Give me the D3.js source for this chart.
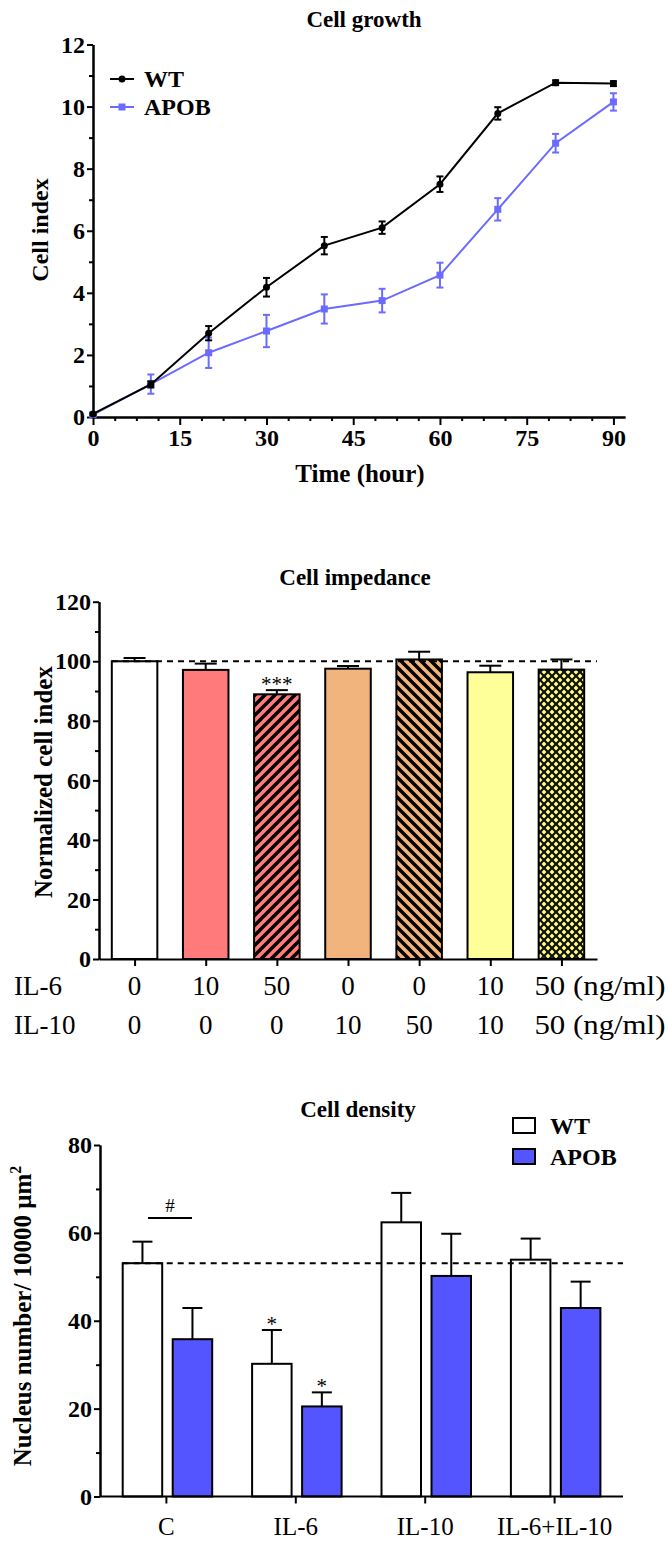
<!DOCTYPE html>
<html>
<head>
<meta charset="utf-8">
<script src="https://cdn.jsdelivr.net/npm/d3@7"></script>
<style>
  body { margin: 0; background: #fff; }
  svg text { font-family: "Liberation Serif", "Times New Roman", serif; fill: #000; }
</style>
</head>
<body>
<div id="chart"></div>
<script>
// ---- data: cell growth
var growthTime = [0, 10, 20, 30, 40, 50, 60, 70, 80, 90];
var wtIndex    = [0.1, 1.05, 2.7, 4.18, 5.52, 6.1, 7.5, 9.78, 10.77, 10.74];
var wtErr      = [0.03, 0.1, 0.23, 0.3, 0.28, 0.2, 0.25, 0.2, 0.08, 0.08];
var apobIndex  = [0.08, 1.06, 2.07, 2.77, 3.48, 3.75, 4.57, 6.69, 8.82, 10.15];
var apobErr    = [0.05, 0.31, 0.49, 0.52, 0.47, 0.38, 0.4, 0.36, 0.3, 0.28];
var growthXTicks = [0, 15, 30, 45, 60, 75, 90];
var growthYTicks = [0, 2, 4, 6, 8, 10, 12];

// ---- data: cell impedance
var il6Dose  = ["0", "10", "50", "0", "0", "10", "50"];
var il10Dose = ["0", "0", "0", "10", "50", "10", "50"];
var impValue = [100, 97.1, 88.9, 97.5, 100.6, 96.3, 97.2];
var impErr   = [1.1, 2.1, 1.4, 0.9, 2.6, 2.2, 3.4];
var impStars = ["", "", "***", "", "", "", ""];
var impYTicks = [0, 20, 40, 60, 80, 100, 120];

// ---- data: cell density
var densityGroups = ["C", "IL-6", "IL-10", "IL-6+IL-10"];
var densitySeries = ["WT", "APOB"];
var wtDensity      = [53.1, 30.2, 62.4, 53.9];
var wtDensityErr   = [4.9, 7.7, 6.7, 4.8];
var apobDensity    = [35.8, 20.5, 50.2, 42.9];
var apobDensityErr = [7.1, 3.2, 9.6, 6.0];
var wtStars   = ["", "*", "", ""];
var apobStars = ["", "*", "", ""];
var densityYTicks = [0, 20, 40, 60, 80];

var FONT = "'Liberation Serif', 'Times New Roman', serif";
var blueLine = "#6b6bff";
var blueBar = "#5555ff";

var svg = d3.select("#chart").append("svg")
  .attr("width", 669)
  .attr("height", 1551)
  .attr("font-family", FONT);

var defs = svg.append("defs");

// diagonal stripes over a colour
function stripePattern(id, bg, dir) {
  var p = defs.append("pattern")
    .attr("id", id)
    .attr("patternUnits", "userSpaceOnUse")
    .attr("width", 10).attr("height", 10);
  p.append("rect").attr("width", 10).attr("height", 10).attr("fill", bg);
  var d = dir > 0
    ? "M-2,12 L12,-2 M-7,7 L7,-7 M3,17 L17,3"
    : "M-2,-2 L12,12 M-7,3 L7,17 M3,-7 L17,7";
  p.append("path").attr("d", d).attr("stroke", "#000").attr("stroke-width", 3.4);
}
stripePattern("stripeRed", "#ff7b7b", 1);
stripePattern("stripeOrange", "#f0b47c", -1);

// black with yellow diamond dots
var dots = defs.append("pattern")
  .attr("id", "dotsYellow")
  .attr("patternUnits", "userSpaceOnUse")
  .attr("width", 8).attr("height", 8);
dots.append("rect").attr("width", 8).attr("height", 8).attr("fill", "#111");
dots.append("path").attr("d", "M4,1.6 L6.4,4 L4,6.4 L1.6,4 Z").attr("fill", "#ffff80");
dots.append("path").attr("d", "M0,-2.4 L2.4,0 L0,2.4 L-2.4,0 Z M8,-2.4 L10.4,0 L8,2.4 L5.6,0 Z M0,5.6 L2.4,8 L0,10.4 L-2.4,8 Z M8,5.6 L10.4,8 L8,10.4 L5.6,8 Z")
  .attr("fill", "#ffff80");

var impFill = ["#ffffff", "#ff7b7b", "url(#stripeRed)", "#f0b47c", "url(#stripeOrange)", "#ffff99", "url(#dotsYellow)"];

function styleAxis(g, size) {
  g.attr("font-family", FONT);
  g.selectAll(".domain").attr("stroke-width", 2).attr("stroke", "#000");
  g.selectAll(".tick line").attr("stroke-width", 2).attr("stroke", "#000");
  g.selectAll(".tick text")
    .attr("font-family", FONT)
    .style("font-weight", "bold")
    .style("font-size", size + "px")
    .attr("fill", "#000");
}

// =========================== Cell growth
var x1 = d3.scaleLinear().domain([0, 92]).range([93, 625]);
var y1 = d3.scaleLinear().domain([0, 12]).range([417, 44.5]);

svg.append("text")
  .attr("x", 364).attr("y", 27)
  .attr("text-anchor", "middle")
  .style("font-weight", "bold").style("font-size", "23px")
  .text("Cell growth");

// minor ticks
svg.append("g")
  .attr("transform", "translate(0,417)")
  .call(d3.axisBottom(x1).tickValues(d3.range(0, 91, 3.75).filter(function(d) { return d % 15 !== 0; }))
    .tickSize(4).tickFormat("").tickSizeOuter(0))
  .call(function(g) { styleAxis(g, 24); });

svg.append("g")
  .attr("transform", "translate(0,417)")
  .call(d3.axisBottom(x1).tickValues(growthXTicks).tickSize(8).tickPadding(4).tickSizeOuter(0))
  .call(function(g) { styleAxis(g, 24); });

svg.append("g")
  .attr("transform", "translate(93,0)")
  .call(d3.axisLeft(y1).tickValues([1, 3, 5, 7, 9, 11]).tickSize(4).tickFormat("").tickSizeOuter(0))
  .call(function(g) { styleAxis(g, 24); });

svg.append("g")
  .attr("transform", "translate(93,0)")
  .call(d3.axisLeft(y1).tickValues(growthYTicks).tickSize(6).tickPadding(2).tickSizeOuter(0))
  .call(function(g) { styleAxis(g, 24); });

svg.append("text")
  .attr("transform", "translate(48,230) rotate(-90)")
  .attr("text-anchor", "middle")
  .style("font-weight", "bold").style("font-size", "24px")
  .text("Cell index");

svg.append("text")
  .attr("x", 360).attr("y", 482)
  .attr("text-anchor", "middle")
  .style("font-weight", "bold").style("font-size", "25px")
  .text("Time (hour)");

function drawSeries(vals, errs, color, shape) {
  var pts = growthTime.map(function(t, i) { return {t: t, v: vals[i], e: errs[i]}; });
  var line = d3.line().x(function(d) { return x1(d.t); }).y(function(d) { return y1(d.v); });
  svg.append("path").datum(pts)
    .attr("d", line).attr("fill", "none")
    .attr("stroke", color).attr("stroke-width", 2);
  var eb = svg.append("g").selectAll("g").data(pts).enter().append("g");
  eb.append("line")
    .attr("x1", function(d) { return x1(d.t); }).attr("x2", function(d) { return x1(d.t); })
    .attr("y1", function(d) { return y1(d.v - d.e); }).attr("y2", function(d) { return y1(d.v + d.e); })
    .attr("stroke", color).attr("stroke-width", 2);
  [-1, 1].forEach(function(s) {
    eb.append("line")
      .attr("x1", function(d) { return x1(d.t) - 3.5; }).attr("x2", function(d) { return x1(d.t) + 3.5; })
      .attr("y1", function(d) { return y1(d.v + s * d.e); }).attr("y2", function(d) { return y1(d.v + s * d.e); })
      .attr("stroke", color).attr("stroke-width", 2);
  });
  if (shape === "circle") {
    eb.append("circle")
      .attr("cx", function(d) { return x1(d.t); }).attr("cy", function(d) { return y1(d.v); })
      .attr("r", 3.5).attr("fill", color);
  } else {
    eb.append("rect")
      .attr("x", function(d) { return x1(d.t) - 3.5; }).attr("y", function(d) { return y1(d.v) - 3.5; })
      .attr("width", 7).attr("height", 7).attr("fill", color);
  }
}
drawSeries(apobIndex, apobErr, blueLine, "square");
drawSeries(wtIndex, wtErr, "#000", "circle");

// legend
var leg1 = [{name: "WT", color: "#000", shape: "circle", y: 79}, {name: "APOB", color: blueLine, shape: "square", y: 107}];
leg1.forEach(function(d) {
  svg.append("line").attr("x1", 110).attr("x2", 134).attr("y1", d.y).attr("y2", d.y)
    .attr("stroke", d.color).attr("stroke-width", 2);
  if (d.shape === "circle") {
    svg.append("circle").attr("cx", 122).attr("cy", d.y).attr("r", 3.5).attr("fill", d.color);
  } else {
    svg.append("rect").attr("x", 118.5).attr("y", d.y - 3.5).attr("width", 7).attr("height", 7).attr("fill", d.color);
  }
  svg.append("text").attr("x", 144).attr("y", d.y + 8)
    .style("font-weight", "bold").style("font-size", "24px").text(d.name);
});

// =========================== Cell impedance
var x2 = d3.scalePoint().domain(d3.range(impValue.length)).range([99, 597]).padding(0.5);
var y2 = d3.scaleLinear().domain([0, 120]).range([959, 601.7]);
var bw2 = x2.step() * 0.64;

svg.append("text")
  .attr("x", 355).attr("y", 585)
  .attr("text-anchor", "middle")
  .style("font-weight", "bold").style("font-size", "23px")
  .text("Cell impedance");

var bars2 = svg.append("g").selectAll("g").data(impValue).enter().append("g");
bars2.append("line")
  .attr("x1", function(d, i) { return x2(i); }).attr("x2", function(d, i) { return x2(i); })
  .attr("y1", function(d) { return y2(d); }).attr("y2", function(d, i) { return y2(d + impErr[i]); })
  .attr("stroke", "#000").attr("stroke-width", 2);
bars2.append("line")
  .attr("x1", function(d, i) { return x2(i) - 11; }).attr("x2", function(d, i) { return x2(i) + 11; })
  .attr("y1", function(d, i) { return y2(d + impErr[i]); }).attr("y2", function(d, i) { return y2(d + impErr[i]); })
  .attr("stroke", "#000").attr("stroke-width", 2);
bars2.append("rect")
  .attr("x", function(d, i) { return x2(i) - bw2 / 2; })
  .attr("y", function(d) { return y2(d); })
  .attr("width", bw2)
  .attr("height", function(d) { return y2(0) - y2(d); })
  .attr("fill", function(d, i) { return impFill[i]; })
  .attr("stroke", "#000").attr("stroke-width", 2);
bars2.append("text")
  .attr("x", function(d, i) { return x2(i); })
  .attr("y", function(d, i) { return y2(d + impErr[i]) + 1; })
  .attr("text-anchor", "middle")
  .style("font-size", "21px").attr("fill", "#444")
  .text(function(d, i) { return impStars[i]; });

svg.append("line")
  .attr("x1", 112).attr("x2", 597).attr("y1", y2(100)).attr("y2", y2(100))
  .attr("stroke", "#000").attr("stroke-width", 2).attr("stroke-dasharray", "6,5");

svg.append("g")
  .attr("transform", "translate(99,0)")
  .call(d3.axisLeft(y2).tickValues(d3.range(10, 120, 20)).tickSize(4).tickFormat("").tickSizeOuter(0))
  .call(function(g) { styleAxis(g, 24); });
svg.append("g")
  .attr("transform", "translate(99,0)")
  .call(d3.axisLeft(y2).tickValues(impYTicks).tickSize(6).tickPadding(2).tickSizeOuter(0))
  .call(function(g) { styleAxis(g, 24); });
svg.append("g")
  .attr("transform", "translate(0,959)")
  .call(d3.axisBottom(x2).tickSize(7).tickFormat("").tickSizeOuter(0))
  .call(function(g) { styleAxis(g, 24); });

svg.append("text")
  .attr("transform", "translate(52,782) rotate(-90)")
  .attr("text-anchor", "middle")
  .style("font-weight", "bold").style("font-size", "25px")
  .text("Normalized cell index");

var doseRows = [{label: "IL-6", vals: il6Dose, y: 995}, {label: "IL-10", vals: il10Dose, y: 1034}];
doseRows.forEach(function(r) {
  svg.append("text").attr("x", 14).attr("y", r.y)
    .style("font-size", "27px").text(r.label);
  r.vals.forEach(function(v, i) {
    var last = i === r.vals.length - 1;
    var t = svg.append("text")
      .attr("x", last ? x2(i) - 27 : x2(i))
      .attr("y", r.y)
      .attr("text-anchor", last ? "start" : "middle")
      .style("font-size", "27px")
      .text(last ? v + " (ng/ml)" : v);
    if (last) t.attr("textLength", 131).attr("lengthAdjust", "spacingAndGlyphs");
  });
});

// =========================== Cell density
var x3 = d3.scaleBand().domain(densityGroups).range([101.7, 619.3]);
var xs = d3.scaleBand().domain(densitySeries).range([21, 110.5]).paddingInner(0.21);
var y3 = d3.scaleLinear().domain([0, 80]).range([1496.5, 1145]);

svg.append("text")
  .attr("x", 358).attr("y", 1117)
  .attr("text-anchor", "middle")
  .style("font-weight", "bold").style("font-size", "23px")
  .text("Cell density");

var seriesData = [
  {name: "WT", vals: wtDensity, errs: wtDensityErr, stars: wtStars, fill: "#ffffff"},
  {name: "APOB", vals: apobDensity, errs: apobDensityErr, stars: apobStars, fill: blueBar}
];

seriesData.forEach(function(s) {
  var g = svg.append("g").selectAll("g").data(densityGroups).enter().append("g");
  var cx = function(d) { return x3(d) + xs(s.name) + xs.bandwidth() / 2; };
  g.append("line")
    .attr("x1", cx).attr("x2", cx)
    .attr("y1", function(d, i) { return y3(s.vals[i]); })
    .attr("y2", function(d, i) { return y3(s.vals[i] + s.errs[i]); })
    .attr("stroke", "#000").attr("stroke-width", 2);
  g.append("line")
    .attr("x1", function(d) { return cx(d) - 10; }).attr("x2", function(d) { return cx(d) + 10; })
    .attr("y1", function(d, i) { return y3(s.vals[i] + s.errs[i]); })
    .attr("y2", function(d, i) { return y3(s.vals[i] + s.errs[i]); })
    .attr("stroke", "#000").attr("stroke-width", 2);
  g.append("rect")
    .attr("x", function(d) { return x3(d) + xs(s.name); })
    .attr("y", function(d, i) { return y3(s.vals[i]); })
    .attr("width", xs.bandwidth())
    .attr("height", function(d, i) { return y3(0) - y3(s.vals[i]); })
    .attr("fill", s.fill)
    .attr("stroke", "#000").attr("stroke-width", 2);
  g.append("text")
    .attr("x", cx)
    .attr("y", function(d, i) { return y3(s.vals[i] + s.errs[i]) + 1; })
    .attr("text-anchor", "middle")
    .style("font-size", "21px")
    .text(function(d, i) { return s.stars[i]; });
});

svg.append("line")
  .attr("x1", x3("C") + xs("WT")).attr("x2", 623)
  .attr("y1", y3(wtDensity[0])).attr("y2", y3(wtDensity[0]))
  .attr("stroke", "#000").attr("stroke-width", 2).attr("stroke-dasharray", "6,5");

// # between WT and APOB in control
var hashY = y3(63.4);
svg.append("line")
  .attr("x1", 148).attr("x2", 192).attr("y1", hashY).attr("y2", hashY)
  .attr("stroke", "#000").attr("stroke-width", 2);
svg.append("text")
  .attr("x", 170).attr("y", hashY - 6)
  .attr("text-anchor", "middle")
  .style("font-size", "19px")
  .text("#");

svg.append("g")
  .attr("transform", "translate(100,0)")
  .call(d3.axisLeft(y3).tickValues(d3.range(10, 80, 20)).tickSize(4).tickFormat("").tickSizeOuter(0))
  .call(function(g) { styleAxis(g, 24); });
svg.append("g")
  .attr("transform", "translate(100,0)")
  .call(d3.axisLeft(y3).tickValues(densityYTicks).tickSize(6).tickPadding(2).tickSizeOuter(0))
  .call(function(g) { styleAxis(g, 24); });
var xAx3 = svg.append("g")
  .attr("transform", "translate(0,1496.5)")
  .call(d3.axisBottom(x3).tickSize(7).tickPadding(14).tickSizeOuter(0));
styleAxis(xAx3, 25);
xAx3.selectAll(".tick text").style("font-weight", "normal");
xAx3.select(".domain").attr("d", "M100,0H623");

var yt3 = svg.append("text")
  .attr("transform", "translate(31,1316) rotate(-90)")
  .attr("text-anchor", "middle")
  .style("font-weight", "bold").style("font-size", "25px");
yt3.append("tspan").text("Nucleus number/ 10000 \u03bcm");
yt3.append("tspan").attr("dy", -10).style("font-size", "16px").text("2");

// legend
var leg3 = [{name: "WT", fill: "#ffffff", y: 1118}, {name: "APOB", fill: blueBar, y: 1149}];
leg3.forEach(function(d) {
  svg.append("rect").attr("x", 513).attr("y", d.y).attr("width", 22).attr("height", 15)
    .attr("fill", d.fill).attr("stroke", "#000").attr("stroke-width", 2);
  svg.append("text").attr("x", 550).attr("y", d.y + 16)
    .style("font-weight", "bold").style("font-size", "24px").text(d.name);
});
</script>
</body>
</html>
